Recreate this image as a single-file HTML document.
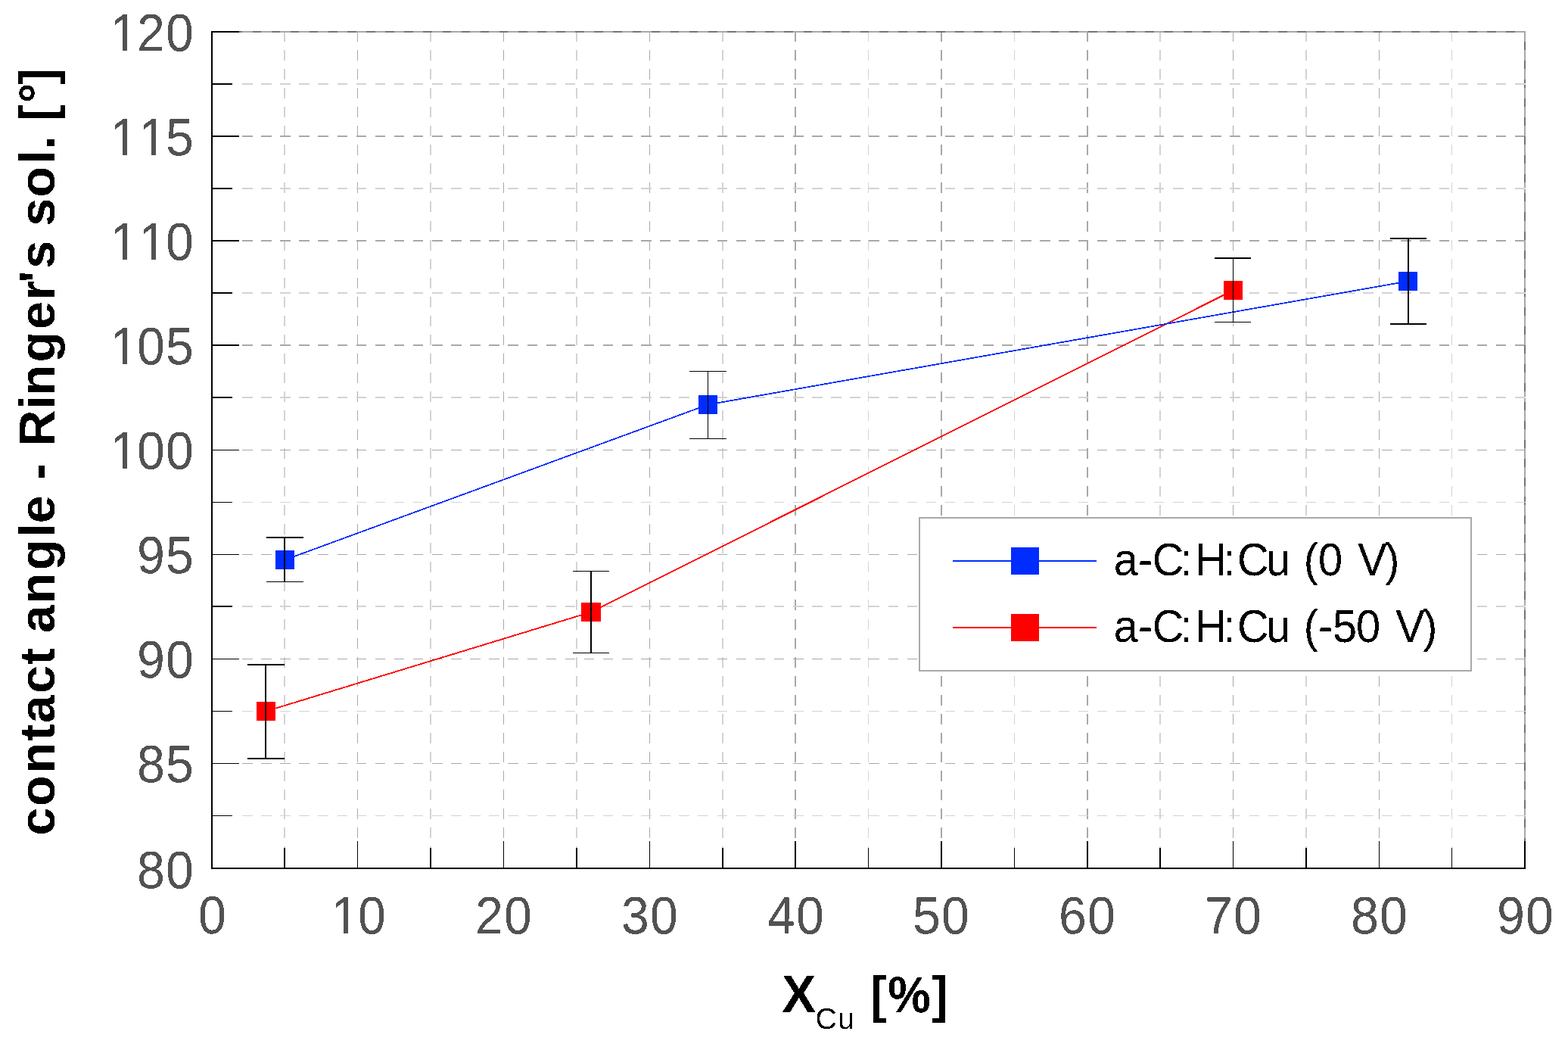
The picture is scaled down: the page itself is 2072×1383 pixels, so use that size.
<!DOCTYPE html>
<html lang="en">
<head>
<meta charset="utf-8">
<title>contact angle - Ringer's sol. vs X Cu</title>
<style>
html,body{margin:0;padding:0;background:#fff;}
body{width:2072px;height:1383px;overflow:hidden;}
svg{display:block;}
</style>
</head>
<body>
<svg width="2072" height="1383" viewBox="0 0 2072 1383" style="display:block">
<rect width="2072" height="1383" fill="#ffffff"/>
<defs><filter id="crisp" x="0" y="0" width="100%" height="100%" filterUnits="userSpaceOnUse" color-interpolation-filters="sRGB"><feComponentTransfer><feFuncA type="discrete" tableValues="0 1"/></feComponentTransfer></filter></defs>
<g shape-rendering="crispEdges">
<path d="M375 41h2v14h-2zM375 66h2v14h-2zM375 91h2v14h-2zM375 116h2v14h-2zM375 141h2v14h-2zM375 166h2v14h-2zM375 191h2v14h-2zM375 216h2v14h-2zM375 241h2v14h-2zM375 266h2v14h-2zM375 292h2v14h-2zM375 317h2v14h-2zM375 342h2v14h-2zM375 367h2v14h-2zM375 392h2v14h-2zM375 417h2v14h-2zM375 442h2v14h-2zM375 467h2v14h-2zM375 492h2v14h-2zM375 517h2v14h-2zM375 542h2v14h-2zM375 567h2v14h-2zM375 592h2v14h-2zM375 617h2v14h-2zM375 642h2v14h-2zM375 667h2v14h-2zM375 692h2v14h-2zM375 717h2v14h-2zM375 742h2v14h-2zM375 767h2v14h-2zM375 792h2v14h-2zM375 818h2v14h-2zM375 843h2v14h-2zM375 868h2v14h-2zM375 893h2v14h-2zM375 918h2v14h-2zM375 943h2v14h-2zM375 968h2v14h-2zM375 993h2v14h-2zM375 1018h2v14h-2zM375 1043h2v14h-2zM375 1068h2v14h-2zM375 1093h2v14h-2zM375 1118h2v14h-2zM375 1143h2v4h-2z" fill="#d3d3d3"/>
<path d="M472 41h1v14h-1zM472 66h1v14h-1zM472 91h1v14h-1zM472 116h1v14h-1zM472 141h1v14h-1zM472 166h1v14h-1zM472 191h1v14h-1zM472 216h1v14h-1zM472 241h1v14h-1zM472 266h1v14h-1zM472 292h1v14h-1zM472 317h1v14h-1zM472 342h1v14h-1zM472 367h1v14h-1zM472 392h1v14h-1zM472 417h1v14h-1zM472 442h1v14h-1zM472 467h1v14h-1zM472 492h1v14h-1zM472 517h1v14h-1zM472 542h1v14h-1zM472 567h1v14h-1zM472 592h1v14h-1zM472 617h1v14h-1zM472 642h1v14h-1zM472 667h1v14h-1zM472 692h1v14h-1zM472 717h1v14h-1zM472 742h1v14h-1zM472 767h1v14h-1zM472 792h1v14h-1zM472 818h1v14h-1zM472 843h1v14h-1zM472 868h1v14h-1zM472 893h1v14h-1zM472 918h1v14h-1zM472 943h1v14h-1zM472 968h1v14h-1zM472 993h1v14h-1zM472 1018h1v14h-1zM472 1043h1v14h-1zM472 1068h1v14h-1zM472 1093h1v14h-1zM472 1118h1v14h-1zM472 1143h1v4h-1z" fill="#a8a8a8"/>
<path d="M568 41h2v14h-2zM568 66h2v14h-2zM568 91h2v14h-2zM568 116h2v14h-2zM568 141h2v14h-2zM568 166h2v14h-2zM568 191h2v14h-2zM568 216h2v14h-2zM568 241h2v14h-2zM568 266h2v14h-2zM568 292h2v14h-2zM568 317h2v14h-2zM568 342h2v14h-2zM568 367h2v14h-2zM568 392h2v14h-2zM568 417h2v14h-2zM568 442h2v14h-2zM568 467h2v14h-2zM568 492h2v14h-2zM568 517h2v14h-2zM568 542h2v14h-2zM568 567h2v14h-2zM568 592h2v14h-2zM568 617h2v14h-2zM568 642h2v14h-2zM568 667h2v14h-2zM568 692h2v14h-2zM568 717h2v14h-2zM568 742h2v14h-2zM568 767h2v14h-2zM568 792h2v14h-2zM568 818h2v14h-2zM568 843h2v14h-2zM568 868h2v14h-2zM568 893h2v14h-2zM568 918h2v14h-2zM568 943h2v14h-2zM568 968h2v14h-2zM568 993h2v14h-2zM568 1018h2v14h-2zM568 1043h2v14h-2zM568 1068h2v14h-2zM568 1093h2v14h-2zM568 1118h2v14h-2zM568 1143h2v4h-2z" fill="#d3d3d3"/>
<path d="M665 41h1v14h-1zM665 66h1v14h-1zM665 91h1v14h-1zM665 116h1v14h-1zM665 141h1v14h-1zM665 166h1v14h-1zM665 191h1v14h-1zM665 216h1v14h-1zM665 241h1v14h-1zM665 266h1v14h-1zM665 292h1v14h-1zM665 317h1v14h-1zM665 342h1v14h-1zM665 367h1v14h-1zM665 392h1v14h-1zM665 417h1v14h-1zM665 442h1v14h-1zM665 467h1v14h-1zM665 492h1v14h-1zM665 517h1v14h-1zM665 542h1v14h-1zM665 567h1v14h-1zM665 592h1v14h-1zM665 617h1v14h-1zM665 642h1v14h-1zM665 667h1v14h-1zM665 692h1v14h-1zM665 717h1v14h-1zM665 742h1v14h-1zM665 767h1v14h-1zM665 792h1v14h-1zM665 818h1v14h-1zM665 843h1v14h-1zM665 868h1v14h-1zM665 893h1v14h-1zM665 918h1v14h-1zM665 943h1v14h-1zM665 968h1v14h-1zM665 993h1v14h-1zM665 1018h1v14h-1zM665 1043h1v14h-1zM665 1068h1v14h-1zM665 1093h1v14h-1zM665 1118h1v14h-1zM665 1143h1v4h-1z" fill="#a8a8a8"/>
<path d="M761 41h2v14h-2zM761 66h2v14h-2zM761 91h2v14h-2zM761 116h2v14h-2zM761 141h2v14h-2zM761 166h2v14h-2zM761 191h2v14h-2zM761 216h2v14h-2zM761 241h2v14h-2zM761 266h2v14h-2zM761 292h2v14h-2zM761 317h2v14h-2zM761 342h2v14h-2zM761 367h2v14h-2zM761 392h2v14h-2zM761 417h2v14h-2zM761 442h2v14h-2zM761 467h2v14h-2zM761 492h2v14h-2zM761 517h2v14h-2zM761 542h2v14h-2zM761 567h2v14h-2zM761 592h2v14h-2zM761 617h2v14h-2zM761 642h2v14h-2zM761 667h2v14h-2zM761 692h2v14h-2zM761 717h2v14h-2zM761 742h2v14h-2zM761 767h2v14h-2zM761 792h2v14h-2zM761 818h2v14h-2zM761 843h2v14h-2zM761 868h2v14h-2zM761 893h2v14h-2zM761 918h2v14h-2zM761 943h2v14h-2zM761 968h2v14h-2zM761 993h2v14h-2zM761 1018h2v14h-2zM761 1043h2v14h-2zM761 1068h2v14h-2zM761 1093h2v14h-2zM761 1118h2v14h-2zM761 1143h2v4h-2z" fill="#d3d3d3"/>
<path d="M858 41h1v14h-1zM858 66h1v14h-1zM858 91h1v14h-1zM858 116h1v14h-1zM858 141h1v14h-1zM858 166h1v14h-1zM858 191h1v14h-1zM858 216h1v14h-1zM858 241h1v14h-1zM858 266h1v14h-1zM858 292h1v14h-1zM858 317h1v14h-1zM858 342h1v14h-1zM858 367h1v14h-1zM858 392h1v14h-1zM858 417h1v14h-1zM858 442h1v14h-1zM858 467h1v14h-1zM858 492h1v14h-1zM858 517h1v14h-1zM858 542h1v14h-1zM858 567h1v14h-1zM858 592h1v14h-1zM858 617h1v14h-1zM858 642h1v14h-1zM858 667h1v14h-1zM858 692h1v14h-1zM858 717h1v14h-1zM858 742h1v14h-1zM858 767h1v14h-1zM858 792h1v14h-1zM858 818h1v14h-1zM858 843h1v14h-1zM858 868h1v14h-1zM858 893h1v14h-1zM858 918h1v14h-1zM858 943h1v14h-1zM858 968h1v14h-1zM858 993h1v14h-1zM858 1018h1v14h-1zM858 1043h1v14h-1zM858 1068h1v14h-1zM858 1093h1v14h-1zM858 1118h1v14h-1zM858 1143h1v4h-1z" fill="#a8a8a8"/>
<path d="M954 41h2v14h-2zM954 66h2v14h-2zM954 91h2v14h-2zM954 116h2v14h-2zM954 141h2v14h-2zM954 166h2v14h-2zM954 191h2v14h-2zM954 216h2v14h-2zM954 241h2v14h-2zM954 266h2v14h-2zM954 292h2v14h-2zM954 317h2v14h-2zM954 342h2v14h-2zM954 367h2v14h-2zM954 392h2v14h-2zM954 417h2v14h-2zM954 442h2v14h-2zM954 467h2v14h-2zM954 492h2v14h-2zM954 517h2v14h-2zM954 542h2v14h-2zM954 567h2v14h-2zM954 592h2v14h-2zM954 617h2v14h-2zM954 642h2v14h-2zM954 667h2v14h-2zM954 692h2v14h-2zM954 717h2v14h-2zM954 742h2v14h-2zM954 767h2v14h-2zM954 792h2v14h-2zM954 818h2v14h-2zM954 843h2v14h-2zM954 868h2v14h-2zM954 893h2v14h-2zM954 918h2v14h-2zM954 943h2v14h-2zM954 968h2v14h-2zM954 993h2v14h-2zM954 1018h2v14h-2zM954 1043h2v14h-2zM954 1068h2v14h-2zM954 1093h2v14h-2zM954 1118h2v14h-2zM954 1143h2v4h-2z" fill="#d3d3d3"/>
<path d="M1050 41h2v14h-2zM1050 66h2v14h-2zM1050 91h2v14h-2zM1050 116h2v14h-2zM1050 141h2v14h-2zM1050 166h2v14h-2zM1050 191h2v14h-2zM1050 216h2v14h-2zM1050 241h2v14h-2zM1050 266h2v14h-2zM1050 292h2v14h-2zM1050 317h2v14h-2zM1050 342h2v14h-2zM1050 367h2v14h-2zM1050 392h2v14h-2zM1050 417h2v14h-2zM1050 442h2v14h-2zM1050 467h2v14h-2zM1050 492h2v14h-2zM1050 517h2v14h-2zM1050 542h2v14h-2zM1050 567h2v14h-2zM1050 592h2v14h-2zM1050 617h2v14h-2zM1050 642h2v14h-2zM1050 667h2v14h-2zM1050 692h2v14h-2zM1050 717h2v14h-2zM1050 742h2v14h-2zM1050 767h2v14h-2zM1050 792h2v14h-2zM1050 818h2v14h-2zM1050 843h2v14h-2zM1050 868h2v14h-2zM1050 893h2v14h-2zM1050 918h2v14h-2zM1050 943h2v14h-2zM1050 968h2v14h-2zM1050 993h2v14h-2zM1050 1018h2v14h-2zM1050 1043h2v14h-2zM1050 1068h2v14h-2zM1050 1093h2v14h-2zM1050 1118h2v14h-2zM1050 1143h2v4h-2z" fill="#a8a8a8"/>
<path d="M1147 41h1v14h-1zM1147 66h1v14h-1zM1147 91h1v14h-1zM1147 116h1v14h-1zM1147 141h1v14h-1zM1147 166h1v14h-1zM1147 191h1v14h-1zM1147 216h1v14h-1zM1147 241h1v14h-1zM1147 266h1v14h-1zM1147 292h1v14h-1zM1147 317h1v14h-1zM1147 342h1v14h-1zM1147 367h1v14h-1zM1147 392h1v14h-1zM1147 417h1v14h-1zM1147 442h1v14h-1zM1147 467h1v14h-1zM1147 492h1v14h-1zM1147 517h1v14h-1zM1147 542h1v14h-1zM1147 567h1v14h-1zM1147 592h1v14h-1zM1147 617h1v14h-1zM1147 642h1v14h-1zM1147 667h1v14h-1zM1147 692h1v14h-1zM1147 717h1v14h-1zM1147 742h1v14h-1zM1147 767h1v14h-1zM1147 792h1v14h-1zM1147 818h1v14h-1zM1147 843h1v14h-1zM1147 868h1v14h-1zM1147 893h1v14h-1zM1147 918h1v14h-1zM1147 943h1v14h-1zM1147 968h1v14h-1zM1147 993h1v14h-1zM1147 1018h1v14h-1zM1147 1043h1v14h-1zM1147 1068h1v14h-1zM1147 1093h1v14h-1zM1147 1118h1v14h-1zM1147 1143h1v4h-1z" fill="#d3d3d3"/>
<path d="M1243 41h2v14h-2zM1243 66h2v14h-2zM1243 91h2v14h-2zM1243 116h2v14h-2zM1243 141h2v14h-2zM1243 166h2v14h-2zM1243 191h2v14h-2zM1243 216h2v14h-2zM1243 241h2v14h-2zM1243 266h2v14h-2zM1243 292h2v14h-2zM1243 317h2v14h-2zM1243 342h2v14h-2zM1243 367h2v14h-2zM1243 392h2v14h-2zM1243 417h2v14h-2zM1243 442h2v14h-2zM1243 467h2v14h-2zM1243 492h2v14h-2zM1243 517h2v14h-2zM1243 542h2v14h-2zM1243 567h2v14h-2zM1243 592h2v14h-2zM1243 617h2v14h-2zM1243 642h2v14h-2zM1243 667h2v14h-2zM1243 692h2v14h-2zM1243 717h2v14h-2zM1243 742h2v14h-2zM1243 767h2v14h-2zM1243 792h2v14h-2zM1243 818h2v14h-2zM1243 843h2v14h-2zM1243 868h2v14h-2zM1243 893h2v14h-2zM1243 918h2v14h-2zM1243 943h2v14h-2zM1243 968h2v14h-2zM1243 993h2v14h-2zM1243 1018h2v14h-2zM1243 1043h2v14h-2zM1243 1068h2v14h-2zM1243 1093h2v14h-2zM1243 1118h2v14h-2zM1243 1143h2v4h-2z" fill="#a8a8a8"/>
<path d="M1340 41h1v14h-1zM1340 66h1v14h-1zM1340 91h1v14h-1zM1340 116h1v14h-1zM1340 141h1v14h-1zM1340 166h1v14h-1zM1340 191h1v14h-1zM1340 216h1v14h-1zM1340 241h1v14h-1zM1340 266h1v14h-1zM1340 292h1v14h-1zM1340 317h1v14h-1zM1340 342h1v14h-1zM1340 367h1v14h-1zM1340 392h1v14h-1zM1340 417h1v14h-1zM1340 442h1v14h-1zM1340 467h1v14h-1zM1340 492h1v14h-1zM1340 517h1v14h-1zM1340 542h1v14h-1zM1340 567h1v14h-1zM1340 592h1v14h-1zM1340 617h1v14h-1zM1340 642h1v14h-1zM1340 667h1v14h-1zM1340 692h1v14h-1zM1340 717h1v14h-1zM1340 742h1v14h-1zM1340 767h1v14h-1zM1340 792h1v14h-1zM1340 818h1v14h-1zM1340 843h1v14h-1zM1340 868h1v14h-1zM1340 893h1v14h-1zM1340 918h1v14h-1zM1340 943h1v14h-1zM1340 968h1v14h-1zM1340 993h1v14h-1zM1340 1018h1v14h-1zM1340 1043h1v14h-1zM1340 1068h1v14h-1zM1340 1093h1v14h-1zM1340 1118h1v14h-1zM1340 1143h1v4h-1z" fill="#d3d3d3"/>
<path d="M1436 41h2v14h-2zM1436 66h2v14h-2zM1436 91h2v14h-2zM1436 116h2v14h-2zM1436 141h2v14h-2zM1436 166h2v14h-2zM1436 191h2v14h-2zM1436 216h2v14h-2zM1436 241h2v14h-2zM1436 266h2v14h-2zM1436 292h2v14h-2zM1436 317h2v14h-2zM1436 342h2v14h-2zM1436 367h2v14h-2zM1436 392h2v14h-2zM1436 417h2v14h-2zM1436 442h2v14h-2zM1436 467h2v14h-2zM1436 492h2v14h-2zM1436 517h2v14h-2zM1436 542h2v14h-2zM1436 567h2v14h-2zM1436 592h2v14h-2zM1436 617h2v14h-2zM1436 642h2v14h-2zM1436 667h2v14h-2zM1436 692h2v14h-2zM1436 717h2v14h-2zM1436 742h2v14h-2zM1436 767h2v14h-2zM1436 792h2v14h-2zM1436 818h2v14h-2zM1436 843h2v14h-2zM1436 868h2v14h-2zM1436 893h2v14h-2zM1436 918h2v14h-2zM1436 943h2v14h-2zM1436 968h2v14h-2zM1436 993h2v14h-2zM1436 1018h2v14h-2zM1436 1043h2v14h-2zM1436 1068h2v14h-2zM1436 1093h2v14h-2zM1436 1118h2v14h-2zM1436 1143h2v4h-2z" fill="#a8a8a8"/>
<path d="M1532 41h2v14h-2zM1532 66h2v14h-2zM1532 91h2v14h-2zM1532 116h2v14h-2zM1532 141h2v14h-2zM1532 166h2v14h-2zM1532 191h2v14h-2zM1532 216h2v14h-2zM1532 241h2v14h-2zM1532 266h2v14h-2zM1532 292h2v14h-2zM1532 317h2v14h-2zM1532 342h2v14h-2zM1532 367h2v14h-2zM1532 392h2v14h-2zM1532 417h2v14h-2zM1532 442h2v14h-2zM1532 467h2v14h-2zM1532 492h2v14h-2zM1532 517h2v14h-2zM1532 542h2v14h-2zM1532 567h2v14h-2zM1532 592h2v14h-2zM1532 617h2v14h-2zM1532 642h2v14h-2zM1532 667h2v14h-2zM1532 692h2v14h-2zM1532 717h2v14h-2zM1532 742h2v14h-2zM1532 767h2v14h-2zM1532 792h2v14h-2zM1532 818h2v14h-2zM1532 843h2v14h-2zM1532 868h2v14h-2zM1532 893h2v14h-2zM1532 918h2v14h-2zM1532 943h2v14h-2zM1532 968h2v14h-2zM1532 993h2v14h-2zM1532 1018h2v14h-2zM1532 1043h2v14h-2zM1532 1068h2v14h-2zM1532 1093h2v14h-2zM1532 1118h2v14h-2zM1532 1143h2v4h-2z" fill="#d3d3d3"/>
<path d="M1629 41h1v14h-1zM1629 66h1v14h-1zM1629 91h1v14h-1zM1629 116h1v14h-1zM1629 141h1v14h-1zM1629 166h1v14h-1zM1629 191h1v14h-1zM1629 216h1v14h-1zM1629 241h1v14h-1zM1629 266h1v14h-1zM1629 292h1v14h-1zM1629 317h1v14h-1zM1629 342h1v14h-1zM1629 367h1v14h-1zM1629 392h1v14h-1zM1629 417h1v14h-1zM1629 442h1v14h-1zM1629 467h1v14h-1zM1629 492h1v14h-1zM1629 517h1v14h-1zM1629 542h1v14h-1zM1629 567h1v14h-1zM1629 592h1v14h-1zM1629 617h1v14h-1zM1629 642h1v14h-1zM1629 667h1v14h-1zM1629 692h1v14h-1zM1629 717h1v14h-1zM1629 742h1v14h-1zM1629 767h1v14h-1zM1629 792h1v14h-1zM1629 818h1v14h-1zM1629 843h1v14h-1zM1629 868h1v14h-1zM1629 893h1v14h-1zM1629 918h1v14h-1zM1629 943h1v14h-1zM1629 968h1v14h-1zM1629 993h1v14h-1zM1629 1018h1v14h-1zM1629 1043h1v14h-1zM1629 1068h1v14h-1zM1629 1093h1v14h-1zM1629 1118h1v14h-1zM1629 1143h1v4h-1z" fill="#a8a8a8"/>
<path d="M1725 41h2v14h-2zM1725 66h2v14h-2zM1725 91h2v14h-2zM1725 116h2v14h-2zM1725 141h2v14h-2zM1725 166h2v14h-2zM1725 191h2v14h-2zM1725 216h2v14h-2zM1725 241h2v14h-2zM1725 266h2v14h-2zM1725 292h2v14h-2zM1725 317h2v14h-2zM1725 342h2v14h-2zM1725 367h2v14h-2zM1725 392h2v14h-2zM1725 417h2v14h-2zM1725 442h2v14h-2zM1725 467h2v14h-2zM1725 492h2v14h-2zM1725 517h2v14h-2zM1725 542h2v14h-2zM1725 567h2v14h-2zM1725 592h2v14h-2zM1725 617h2v14h-2zM1725 642h2v14h-2zM1725 667h2v14h-2zM1725 692h2v14h-2zM1725 717h2v14h-2zM1725 742h2v14h-2zM1725 767h2v14h-2zM1725 792h2v14h-2zM1725 818h2v14h-2zM1725 843h2v14h-2zM1725 868h2v14h-2zM1725 893h2v14h-2zM1725 918h2v14h-2zM1725 943h2v14h-2zM1725 968h2v14h-2zM1725 993h2v14h-2zM1725 1018h2v14h-2zM1725 1043h2v14h-2zM1725 1068h2v14h-2zM1725 1093h2v14h-2zM1725 1118h2v14h-2zM1725 1143h2v4h-2z" fill="#d3d3d3"/>
<path d="M1822 41h1v14h-1zM1822 66h1v14h-1zM1822 91h1v14h-1zM1822 116h1v14h-1zM1822 141h1v14h-1zM1822 166h1v14h-1zM1822 191h1v14h-1zM1822 216h1v14h-1zM1822 241h1v14h-1zM1822 266h1v14h-1zM1822 292h1v14h-1zM1822 317h1v14h-1zM1822 342h1v14h-1zM1822 367h1v14h-1zM1822 392h1v14h-1zM1822 417h1v14h-1zM1822 442h1v14h-1zM1822 467h1v14h-1zM1822 492h1v14h-1zM1822 517h1v14h-1zM1822 542h1v14h-1zM1822 567h1v14h-1zM1822 592h1v14h-1zM1822 617h1v14h-1zM1822 642h1v14h-1zM1822 667h1v14h-1zM1822 692h1v14h-1zM1822 717h1v14h-1zM1822 742h1v14h-1zM1822 767h1v14h-1zM1822 792h1v14h-1zM1822 818h1v14h-1zM1822 843h1v14h-1zM1822 868h1v14h-1zM1822 893h1v14h-1zM1822 918h1v14h-1zM1822 943h1v14h-1zM1822 968h1v14h-1zM1822 993h1v14h-1zM1822 1018h1v14h-1zM1822 1043h1v14h-1zM1822 1068h1v14h-1zM1822 1093h1v14h-1zM1822 1118h1v14h-1zM1822 1143h1v4h-1z" fill="#a8a8a8"/>
<path d="M1918 41h1v14h-1zM1918 66h1v14h-1zM1918 91h1v14h-1zM1918 116h1v14h-1zM1918 141h1v14h-1zM1918 166h1v14h-1zM1918 191h1v14h-1zM1918 216h1v14h-1zM1918 241h1v14h-1zM1918 266h1v14h-1zM1918 292h1v14h-1zM1918 317h1v14h-1zM1918 342h1v14h-1zM1918 367h1v14h-1zM1918 392h1v14h-1zM1918 417h1v14h-1zM1918 442h1v14h-1zM1918 467h1v14h-1zM1918 492h1v14h-1zM1918 517h1v14h-1zM1918 542h1v14h-1zM1918 567h1v14h-1zM1918 592h1v14h-1zM1918 617h1v14h-1zM1918 642h1v14h-1zM1918 667h1v14h-1zM1918 692h1v14h-1zM1918 717h1v14h-1zM1918 742h1v14h-1zM1918 767h1v14h-1zM1918 792h1v14h-1zM1918 818h1v14h-1zM1918 843h1v14h-1zM1918 868h1v14h-1zM1918 893h1v14h-1zM1918 918h1v14h-1zM1918 943h1v14h-1zM1918 968h1v14h-1zM1918 993h1v14h-1zM1918 1018h1v14h-1zM1918 1043h1v14h-1zM1918 1068h1v14h-1zM1918 1093h1v14h-1zM1918 1118h1v14h-1zM1918 1143h1v4h-1z" fill="#d3d3d3"/>
<path d="M320 110h14v2h-14zM345 110h14v2h-14zM370 110h14v2h-14zM395 110h14v2h-14zM420 110h14v2h-14zM446 110h13v2h-13zM471 110h13v2h-13zM496 110h13v2h-13zM521 110h13v2h-13zM546 110h13v2h-13zM571 110h14v2h-14zM596 110h14v2h-14zM621 110h14v2h-14zM646 110h14v2h-14zM671 110h14v2h-14zM697 110h13v2h-13zM722 110h13v2h-13zM747 110h13v2h-13zM772 110h13v2h-13zM797 110h13v2h-13zM822 110h14v2h-14zM847 110h14v2h-14zM872 110h14v2h-14zM897 110h14v2h-14zM922 110h14v2h-14zM948 110h13v2h-13zM973 110h13v2h-13zM998 110h13v2h-13zM1023 110h13v2h-13zM1048 110h14v2h-14zM1073 110h14v2h-14zM1098 110h14v2h-14zM1123 110h14v2h-14zM1148 110h14v2h-14zM1174 110h13v2h-13zM1199 110h13v2h-13zM1224 110h13v2h-13zM1249 110h13v2h-13zM1274 110h13v2h-13zM1299 110h14v2h-14zM1324 110h14v2h-14zM1349 110h14v2h-14zM1374 110h14v2h-14zM1399 110h14v2h-14zM1425 110h13v2h-13zM1450 110h13v2h-13zM1475 110h13v2h-13zM1500 110h13v2h-13zM1525 110h13v2h-13zM1550 110h14v2h-14zM1575 110h14v2h-14zM1600 110h14v2h-14zM1625 110h14v2h-14zM1651 110h13v2h-13zM1676 110h13v2h-13zM1701 110h13v2h-13zM1726 110h13v2h-13zM1751 110h13v2h-13zM1776 110h14v2h-14zM1801 110h14v2h-14zM1826 110h14v2h-14zM1851 110h14v2h-14zM1876 110h14v2h-14zM1902 110h13v2h-13zM1927 110h13v2h-13zM1952 110h13v2h-13zM1977 110h13v2h-13zM2002 110h13v2h-13z" fill="#d3d3d3"/>
<path d="M320 179h14v2h-14zM345 179h14v2h-14zM370 179h14v2h-14zM395 179h14v2h-14zM420 179h14v2h-14zM446 179h13v2h-13zM471 179h13v2h-13zM496 179h13v2h-13zM521 179h13v2h-13zM546 179h13v2h-13zM571 179h14v2h-14zM596 179h14v2h-14zM621 179h14v2h-14zM646 179h14v2h-14zM671 179h14v2h-14zM697 179h13v2h-13zM722 179h13v2h-13zM747 179h13v2h-13zM772 179h13v2h-13zM797 179h13v2h-13zM822 179h14v2h-14zM847 179h14v2h-14zM872 179h14v2h-14zM897 179h14v2h-14zM922 179h14v2h-14zM948 179h13v2h-13zM973 179h13v2h-13zM998 179h13v2h-13zM1023 179h13v2h-13zM1048 179h14v2h-14zM1073 179h14v2h-14zM1098 179h14v2h-14zM1123 179h14v2h-14zM1148 179h14v2h-14zM1174 179h13v2h-13zM1199 179h13v2h-13zM1224 179h13v2h-13zM1249 179h13v2h-13zM1274 179h13v2h-13zM1299 179h14v2h-14zM1324 179h14v2h-14zM1349 179h14v2h-14zM1374 179h14v2h-14zM1399 179h14v2h-14zM1425 179h13v2h-13zM1450 179h13v2h-13zM1475 179h13v2h-13zM1500 179h13v2h-13zM1525 179h13v2h-13zM1550 179h14v2h-14zM1575 179h14v2h-14zM1600 179h14v2h-14zM1625 179h14v2h-14zM1651 179h13v2h-13zM1676 179h13v2h-13zM1701 179h13v2h-13zM1726 179h13v2h-13zM1751 179h13v2h-13zM1776 179h14v2h-14zM1801 179h14v2h-14zM1826 179h14v2h-14zM1851 179h14v2h-14zM1876 179h14v2h-14zM1902 179h13v2h-13zM1927 179h13v2h-13zM1952 179h13v2h-13zM1977 179h13v2h-13zM2002 179h13v2h-13z" fill="#a8a8a8"/>
<path d="M320 248h14v2h-14zM345 248h14v2h-14zM370 248h14v2h-14zM395 248h14v2h-14zM420 248h14v2h-14zM446 248h13v2h-13zM471 248h13v2h-13zM496 248h13v2h-13zM521 248h13v2h-13zM546 248h13v2h-13zM571 248h14v2h-14zM596 248h14v2h-14zM621 248h14v2h-14zM646 248h14v2h-14zM671 248h14v2h-14zM697 248h13v2h-13zM722 248h13v2h-13zM747 248h13v2h-13zM772 248h13v2h-13zM797 248h13v2h-13zM822 248h14v2h-14zM847 248h14v2h-14zM872 248h14v2h-14zM897 248h14v2h-14zM922 248h14v2h-14zM948 248h13v2h-13zM973 248h13v2h-13zM998 248h13v2h-13zM1023 248h13v2h-13zM1048 248h14v2h-14zM1073 248h14v2h-14zM1098 248h14v2h-14zM1123 248h14v2h-14zM1148 248h14v2h-14zM1174 248h13v2h-13zM1199 248h13v2h-13zM1224 248h13v2h-13zM1249 248h13v2h-13zM1274 248h13v2h-13zM1299 248h14v2h-14zM1324 248h14v2h-14zM1349 248h14v2h-14zM1374 248h14v2h-14zM1399 248h14v2h-14zM1425 248h13v2h-13zM1450 248h13v2h-13zM1475 248h13v2h-13zM1500 248h13v2h-13zM1525 248h13v2h-13zM1550 248h14v2h-14zM1575 248h14v2h-14zM1600 248h14v2h-14zM1625 248h14v2h-14zM1651 248h13v2h-13zM1676 248h13v2h-13zM1701 248h13v2h-13zM1726 248h13v2h-13zM1751 248h13v2h-13zM1776 248h14v2h-14zM1801 248h14v2h-14zM1826 248h14v2h-14zM1851 248h14v2h-14zM1876 248h14v2h-14zM1902 248h13v2h-13zM1927 248h13v2h-13zM1952 248h13v2h-13zM1977 248h13v2h-13zM2002 248h13v2h-13z" fill="#d3d3d3"/>
<path d="M320 317h14v2h-14zM345 317h14v2h-14zM370 317h14v2h-14zM395 317h14v2h-14zM420 317h14v2h-14zM446 317h13v2h-13zM471 317h13v2h-13zM496 317h13v2h-13zM521 317h13v2h-13zM546 317h13v2h-13zM571 317h14v2h-14zM596 317h14v2h-14zM621 317h14v2h-14zM646 317h14v2h-14zM671 317h14v2h-14zM697 317h13v2h-13zM722 317h13v2h-13zM747 317h13v2h-13zM772 317h13v2h-13zM797 317h13v2h-13zM822 317h14v2h-14zM847 317h14v2h-14zM872 317h14v2h-14zM897 317h14v2h-14zM922 317h14v2h-14zM948 317h13v2h-13zM973 317h13v2h-13zM998 317h13v2h-13zM1023 317h13v2h-13zM1048 317h14v2h-14zM1073 317h14v2h-14zM1098 317h14v2h-14zM1123 317h14v2h-14zM1148 317h14v2h-14zM1174 317h13v2h-13zM1199 317h13v2h-13zM1224 317h13v2h-13zM1249 317h13v2h-13zM1274 317h13v2h-13zM1299 317h14v2h-14zM1324 317h14v2h-14zM1349 317h14v2h-14zM1374 317h14v2h-14zM1399 317h14v2h-14zM1425 317h13v2h-13zM1450 317h13v2h-13zM1475 317h13v2h-13zM1500 317h13v2h-13zM1525 317h13v2h-13zM1550 317h14v2h-14zM1575 317h14v2h-14zM1600 317h14v2h-14zM1625 317h14v2h-14zM1651 317h13v2h-13zM1676 317h13v2h-13zM1701 317h13v2h-13zM1726 317h13v2h-13zM1751 317h13v2h-13zM1776 317h14v2h-14zM1801 317h14v2h-14zM1826 317h14v2h-14zM1851 317h14v2h-14zM1876 317h14v2h-14zM1902 317h13v2h-13zM1927 317h13v2h-13zM1952 317h13v2h-13zM1977 317h13v2h-13zM2002 317h13v2h-13z" fill="#a8a8a8"/>
<path d="M320 386h14v2h-14zM345 386h14v2h-14zM370 386h14v2h-14zM395 386h14v2h-14zM420 386h14v2h-14zM446 386h13v2h-13zM471 386h13v2h-13zM496 386h13v2h-13zM521 386h13v2h-13zM546 386h13v2h-13zM571 386h14v2h-14zM596 386h14v2h-14zM621 386h14v2h-14zM646 386h14v2h-14zM671 386h14v2h-14zM697 386h13v2h-13zM722 386h13v2h-13zM747 386h13v2h-13zM772 386h13v2h-13zM797 386h13v2h-13zM822 386h14v2h-14zM847 386h14v2h-14zM872 386h14v2h-14zM897 386h14v2h-14zM922 386h14v2h-14zM948 386h13v2h-13zM973 386h13v2h-13zM998 386h13v2h-13zM1023 386h13v2h-13zM1048 386h14v2h-14zM1073 386h14v2h-14zM1098 386h14v2h-14zM1123 386h14v2h-14zM1148 386h14v2h-14zM1174 386h13v2h-13zM1199 386h13v2h-13zM1224 386h13v2h-13zM1249 386h13v2h-13zM1274 386h13v2h-13zM1299 386h14v2h-14zM1324 386h14v2h-14zM1349 386h14v2h-14zM1374 386h14v2h-14zM1399 386h14v2h-14zM1425 386h13v2h-13zM1450 386h13v2h-13zM1475 386h13v2h-13zM1500 386h13v2h-13zM1525 386h13v2h-13zM1550 386h14v2h-14zM1575 386h14v2h-14zM1600 386h14v2h-14zM1625 386h14v2h-14zM1651 386h13v2h-13zM1676 386h13v2h-13zM1701 386h13v2h-13zM1726 386h13v2h-13zM1751 386h13v2h-13zM1776 386h14v2h-14zM1801 386h14v2h-14zM1826 386h14v2h-14zM1851 386h14v2h-14zM1876 386h14v2h-14zM1902 386h13v2h-13zM1927 386h13v2h-13zM1952 386h13v2h-13zM1977 386h13v2h-13zM2002 386h13v2h-13z" fill="#d3d3d3"/>
<path d="M320 455h14v2h-14zM345 455h14v2h-14zM370 455h14v2h-14zM395 455h14v2h-14zM420 455h14v2h-14zM446 455h13v2h-13zM471 455h13v2h-13zM496 455h13v2h-13zM521 455h13v2h-13zM546 455h13v2h-13zM571 455h14v2h-14zM596 455h14v2h-14zM621 455h14v2h-14zM646 455h14v2h-14zM671 455h14v2h-14zM697 455h13v2h-13zM722 455h13v2h-13zM747 455h13v2h-13zM772 455h13v2h-13zM797 455h13v2h-13zM822 455h14v2h-14zM847 455h14v2h-14zM872 455h14v2h-14zM897 455h14v2h-14zM922 455h14v2h-14zM948 455h13v2h-13zM973 455h13v2h-13zM998 455h13v2h-13zM1023 455h13v2h-13zM1048 455h14v2h-14zM1073 455h14v2h-14zM1098 455h14v2h-14zM1123 455h14v2h-14zM1148 455h14v2h-14zM1174 455h13v2h-13zM1199 455h13v2h-13zM1224 455h13v2h-13zM1249 455h13v2h-13zM1274 455h13v2h-13zM1299 455h14v2h-14zM1324 455h14v2h-14zM1349 455h14v2h-14zM1374 455h14v2h-14zM1399 455h14v2h-14zM1425 455h13v2h-13zM1450 455h13v2h-13zM1475 455h13v2h-13zM1500 455h13v2h-13zM1525 455h13v2h-13zM1550 455h14v2h-14zM1575 455h14v2h-14zM1600 455h14v2h-14zM1625 455h14v2h-14zM1651 455h13v2h-13zM1676 455h13v2h-13zM1701 455h13v2h-13zM1726 455h13v2h-13zM1751 455h13v2h-13zM1776 455h14v2h-14zM1801 455h14v2h-14zM1826 455h14v2h-14zM1851 455h14v2h-14zM1876 455h14v2h-14zM1902 455h13v2h-13zM1927 455h13v2h-13zM1952 455h13v2h-13zM1977 455h13v2h-13zM2002 455h13v2h-13z" fill="#a8a8a8"/>
<path d="M320 524h14v2h-14zM345 524h14v2h-14zM370 524h14v2h-14zM395 524h14v2h-14zM420 524h14v2h-14zM446 524h13v2h-13zM471 524h13v2h-13zM496 524h13v2h-13zM521 524h13v2h-13zM546 524h13v2h-13zM571 524h14v2h-14zM596 524h14v2h-14zM621 524h14v2h-14zM646 524h14v2h-14zM671 524h14v2h-14zM697 524h13v2h-13zM722 524h13v2h-13zM747 524h13v2h-13zM772 524h13v2h-13zM797 524h13v2h-13zM822 524h14v2h-14zM847 524h14v2h-14zM872 524h14v2h-14zM897 524h14v2h-14zM922 524h14v2h-14zM948 524h13v2h-13zM973 524h13v2h-13zM998 524h13v2h-13zM1023 524h13v2h-13zM1048 524h14v2h-14zM1073 524h14v2h-14zM1098 524h14v2h-14zM1123 524h14v2h-14zM1148 524h14v2h-14zM1174 524h13v2h-13zM1199 524h13v2h-13zM1224 524h13v2h-13zM1249 524h13v2h-13zM1274 524h13v2h-13zM1299 524h14v2h-14zM1324 524h14v2h-14zM1349 524h14v2h-14zM1374 524h14v2h-14zM1399 524h14v2h-14zM1425 524h13v2h-13zM1450 524h13v2h-13zM1475 524h13v2h-13zM1500 524h13v2h-13zM1525 524h13v2h-13zM1550 524h14v2h-14zM1575 524h14v2h-14zM1600 524h14v2h-14zM1625 524h14v2h-14zM1651 524h13v2h-13zM1676 524h13v2h-13zM1701 524h13v2h-13zM1726 524h13v2h-13zM1751 524h13v2h-13zM1776 524h14v2h-14zM1801 524h14v2h-14zM1826 524h14v2h-14zM1851 524h14v2h-14zM1876 524h14v2h-14zM1902 524h13v2h-13zM1927 524h13v2h-13zM1952 524h13v2h-13zM1977 524h13v2h-13zM2002 524h13v2h-13z" fill="#d3d3d3"/>
<path d="M320 594h14v1h-14zM345 594h14v1h-14zM370 594h14v1h-14zM395 594h14v1h-14zM420 594h14v1h-14zM446 594h13v1h-13zM471 594h13v1h-13zM496 594h13v1h-13zM521 594h13v1h-13zM546 594h13v1h-13zM571 594h14v1h-14zM596 594h14v1h-14zM621 594h14v1h-14zM646 594h14v1h-14zM671 594h14v1h-14zM697 594h13v1h-13zM722 594h13v1h-13zM747 594h13v1h-13zM772 594h13v1h-13zM797 594h13v1h-13zM822 594h14v1h-14zM847 594h14v1h-14zM872 594h14v1h-14zM897 594h14v1h-14zM922 594h14v1h-14zM948 594h13v1h-13zM973 594h13v1h-13zM998 594h13v1h-13zM1023 594h13v1h-13zM1048 594h14v1h-14zM1073 594h14v1h-14zM1098 594h14v1h-14zM1123 594h14v1h-14zM1148 594h14v1h-14zM1174 594h13v1h-13zM1199 594h13v1h-13zM1224 594h13v1h-13zM1249 594h13v1h-13zM1274 594h13v1h-13zM1299 594h14v1h-14zM1324 594h14v1h-14zM1349 594h14v1h-14zM1374 594h14v1h-14zM1399 594h14v1h-14zM1425 594h13v1h-13zM1450 594h13v1h-13zM1475 594h13v1h-13zM1500 594h13v1h-13zM1525 594h13v1h-13zM1550 594h14v1h-14zM1575 594h14v1h-14zM1600 594h14v1h-14zM1625 594h14v1h-14zM1651 594h13v1h-13zM1676 594h13v1h-13zM1701 594h13v1h-13zM1726 594h13v1h-13zM1751 594h13v1h-13zM1776 594h14v1h-14zM1801 594h14v1h-14zM1826 594h14v1h-14zM1851 594h14v1h-14zM1876 594h14v1h-14zM1902 594h13v1h-13zM1927 594h13v1h-13zM1952 594h13v1h-13zM1977 594h13v1h-13zM2002 594h13v1h-13z" fill="#a8a8a8"/>
<path d="M320 663h14v1h-14zM345 663h14v1h-14zM370 663h14v1h-14zM395 663h14v1h-14zM420 663h14v1h-14zM446 663h13v1h-13zM471 663h13v1h-13zM496 663h13v1h-13zM521 663h13v1h-13zM546 663h13v1h-13zM571 663h14v1h-14zM596 663h14v1h-14zM621 663h14v1h-14zM646 663h14v1h-14zM671 663h14v1h-14zM697 663h13v1h-13zM722 663h13v1h-13zM747 663h13v1h-13zM772 663h13v1h-13zM797 663h13v1h-13zM822 663h14v1h-14zM847 663h14v1h-14zM872 663h14v1h-14zM897 663h14v1h-14zM922 663h14v1h-14zM948 663h13v1h-13zM973 663h13v1h-13zM998 663h13v1h-13zM1023 663h13v1h-13zM1048 663h14v1h-14zM1073 663h14v1h-14zM1098 663h14v1h-14zM1123 663h14v1h-14zM1148 663h14v1h-14zM1174 663h13v1h-13zM1199 663h13v1h-13zM1224 663h13v1h-13zM1249 663h13v1h-13zM1274 663h13v1h-13zM1299 663h14v1h-14zM1324 663h14v1h-14zM1349 663h14v1h-14zM1374 663h14v1h-14zM1399 663h14v1h-14zM1425 663h13v1h-13zM1450 663h13v1h-13zM1475 663h13v1h-13zM1500 663h13v1h-13zM1525 663h13v1h-13zM1550 663h14v1h-14zM1575 663h14v1h-14zM1600 663h14v1h-14zM1625 663h14v1h-14zM1651 663h13v1h-13zM1676 663h13v1h-13zM1701 663h13v1h-13zM1726 663h13v1h-13zM1751 663h13v1h-13zM1776 663h14v1h-14zM1801 663h14v1h-14zM1826 663h14v1h-14zM1851 663h14v1h-14zM1876 663h14v1h-14zM1902 663h13v1h-13zM1927 663h13v1h-13zM1952 663h13v1h-13zM1977 663h13v1h-13zM2002 663h13v1h-13z" fill="#d3d3d3"/>
<path d="M320 732h14v1h-14zM345 732h14v1h-14zM370 732h14v1h-14zM395 732h14v1h-14zM420 732h14v1h-14zM446 732h13v1h-13zM471 732h13v1h-13zM496 732h13v1h-13zM521 732h13v1h-13zM546 732h13v1h-13zM571 732h14v1h-14zM596 732h14v1h-14zM621 732h14v1h-14zM646 732h14v1h-14zM671 732h14v1h-14zM697 732h13v1h-13zM722 732h13v1h-13zM747 732h13v1h-13zM772 732h13v1h-13zM797 732h13v1h-13zM822 732h14v1h-14zM847 732h14v1h-14zM872 732h14v1h-14zM897 732h14v1h-14zM922 732h14v1h-14zM948 732h13v1h-13zM973 732h13v1h-13zM998 732h13v1h-13zM1023 732h13v1h-13zM1048 732h14v1h-14zM1073 732h14v1h-14zM1098 732h14v1h-14zM1123 732h14v1h-14zM1148 732h14v1h-14zM1174 732h13v1h-13zM1199 732h13v1h-13zM1224 732h13v1h-13zM1249 732h13v1h-13zM1274 732h13v1h-13zM1299 732h14v1h-14zM1324 732h14v1h-14zM1349 732h14v1h-14zM1374 732h14v1h-14zM1399 732h14v1h-14zM1425 732h13v1h-13zM1450 732h13v1h-13zM1475 732h13v1h-13zM1500 732h13v1h-13zM1525 732h13v1h-13zM1550 732h14v1h-14zM1575 732h14v1h-14zM1600 732h14v1h-14zM1625 732h14v1h-14zM1651 732h13v1h-13zM1676 732h13v1h-13zM1701 732h13v1h-13zM1726 732h13v1h-13zM1751 732h13v1h-13zM1776 732h14v1h-14zM1801 732h14v1h-14zM1826 732h14v1h-14zM1851 732h14v1h-14zM1876 732h14v1h-14zM1902 732h13v1h-13zM1927 732h13v1h-13zM1952 732h13v1h-13zM1977 732h13v1h-13zM2002 732h13v1h-13z" fill="#a8a8a8"/>
<path d="M320 800h14v2h-14zM345 800h14v2h-14zM370 800h14v2h-14zM395 800h14v2h-14zM420 800h14v2h-14zM446 800h13v2h-13zM471 800h13v2h-13zM496 800h13v2h-13zM521 800h13v2h-13zM546 800h13v2h-13zM571 800h14v2h-14zM596 800h14v2h-14zM621 800h14v2h-14zM646 800h14v2h-14zM671 800h14v2h-14zM697 800h13v2h-13zM722 800h13v2h-13zM747 800h13v2h-13zM772 800h13v2h-13zM797 800h13v2h-13zM822 800h14v2h-14zM847 800h14v2h-14zM872 800h14v2h-14zM897 800h14v2h-14zM922 800h14v2h-14zM948 800h13v2h-13zM973 800h13v2h-13zM998 800h13v2h-13zM1023 800h13v2h-13zM1048 800h14v2h-14zM1073 800h14v2h-14zM1098 800h14v2h-14zM1123 800h14v2h-14zM1148 800h14v2h-14zM1174 800h13v2h-13zM1199 800h13v2h-13zM1224 800h13v2h-13zM1249 800h13v2h-13zM1274 800h13v2h-13zM1299 800h14v2h-14zM1324 800h14v2h-14zM1349 800h14v2h-14zM1374 800h14v2h-14zM1399 800h14v2h-14zM1425 800h13v2h-13zM1450 800h13v2h-13zM1475 800h13v2h-13zM1500 800h13v2h-13zM1525 800h13v2h-13zM1550 800h14v2h-14zM1575 800h14v2h-14zM1600 800h14v2h-14zM1625 800h14v2h-14zM1651 800h13v2h-13zM1676 800h13v2h-13zM1701 800h13v2h-13zM1726 800h13v2h-13zM1751 800h13v2h-13zM1776 800h14v2h-14zM1801 800h14v2h-14zM1826 800h14v2h-14zM1851 800h14v2h-14zM1876 800h14v2h-14zM1902 800h13v2h-13zM1927 800h13v2h-13zM1952 800h13v2h-13zM1977 800h13v2h-13zM2002 800h13v2h-13z" fill="#d3d3d3"/>
<path d="M320 870h14v1h-14zM345 870h14v1h-14zM370 870h14v1h-14zM395 870h14v1h-14zM420 870h14v1h-14zM446 870h13v1h-13zM471 870h13v1h-13zM496 870h13v1h-13zM521 870h13v1h-13zM546 870h13v1h-13zM571 870h14v1h-14zM596 870h14v1h-14zM621 870h14v1h-14zM646 870h14v1h-14zM671 870h14v1h-14zM697 870h13v1h-13zM722 870h13v1h-13zM747 870h13v1h-13zM772 870h13v1h-13zM797 870h13v1h-13zM822 870h14v1h-14zM847 870h14v1h-14zM872 870h14v1h-14zM897 870h14v1h-14zM922 870h14v1h-14zM948 870h13v1h-13zM973 870h13v1h-13zM998 870h13v1h-13zM1023 870h13v1h-13zM1048 870h14v1h-14zM1073 870h14v1h-14zM1098 870h14v1h-14zM1123 870h14v1h-14zM1148 870h14v1h-14zM1174 870h13v1h-13zM1199 870h13v1h-13zM1224 870h13v1h-13zM1249 870h13v1h-13zM1274 870h13v1h-13zM1299 870h14v1h-14zM1324 870h14v1h-14zM1349 870h14v1h-14zM1374 870h14v1h-14zM1399 870h14v1h-14zM1425 870h13v1h-13zM1450 870h13v1h-13zM1475 870h13v1h-13zM1500 870h13v1h-13zM1525 870h13v1h-13zM1550 870h14v1h-14zM1575 870h14v1h-14zM1600 870h14v1h-14zM1625 870h14v1h-14zM1651 870h13v1h-13zM1676 870h13v1h-13zM1701 870h13v1h-13zM1726 870h13v1h-13zM1751 870h13v1h-13zM1776 870h14v1h-14zM1801 870h14v1h-14zM1826 870h14v1h-14zM1851 870h14v1h-14zM1876 870h14v1h-14zM1902 870h13v1h-13zM1927 870h13v1h-13zM1952 870h13v1h-13zM1977 870h13v1h-13zM2002 870h13v1h-13z" fill="#a8a8a8"/>
<path d="M320 939h14v1h-14zM345 939h14v1h-14zM370 939h14v1h-14zM395 939h14v1h-14zM420 939h14v1h-14zM446 939h13v1h-13zM471 939h13v1h-13zM496 939h13v1h-13zM521 939h13v1h-13zM546 939h13v1h-13zM571 939h14v1h-14zM596 939h14v1h-14zM621 939h14v1h-14zM646 939h14v1h-14zM671 939h14v1h-14zM697 939h13v1h-13zM722 939h13v1h-13zM747 939h13v1h-13zM772 939h13v1h-13zM797 939h13v1h-13zM822 939h14v1h-14zM847 939h14v1h-14zM872 939h14v1h-14zM897 939h14v1h-14zM922 939h14v1h-14zM948 939h13v1h-13zM973 939h13v1h-13zM998 939h13v1h-13zM1023 939h13v1h-13zM1048 939h14v1h-14zM1073 939h14v1h-14zM1098 939h14v1h-14zM1123 939h14v1h-14zM1148 939h14v1h-14zM1174 939h13v1h-13zM1199 939h13v1h-13zM1224 939h13v1h-13zM1249 939h13v1h-13zM1274 939h13v1h-13zM1299 939h14v1h-14zM1324 939h14v1h-14zM1349 939h14v1h-14zM1374 939h14v1h-14zM1399 939h14v1h-14zM1425 939h13v1h-13zM1450 939h13v1h-13zM1475 939h13v1h-13zM1500 939h13v1h-13zM1525 939h13v1h-13zM1550 939h14v1h-14zM1575 939h14v1h-14zM1600 939h14v1h-14zM1625 939h14v1h-14zM1651 939h13v1h-13zM1676 939h13v1h-13zM1701 939h13v1h-13zM1726 939h13v1h-13zM1751 939h13v1h-13zM1776 939h14v1h-14zM1801 939h14v1h-14zM1826 939h14v1h-14zM1851 939h14v1h-14zM1876 939h14v1h-14zM1902 939h13v1h-13zM1927 939h13v1h-13zM1952 939h13v1h-13zM1977 939h13v1h-13zM2002 939h13v1h-13z" fill="#d3d3d3"/>
<path d="M320 1008h14v1h-14zM345 1008h14v1h-14zM370 1008h14v1h-14zM395 1008h14v1h-14zM420 1008h14v1h-14zM446 1008h13v1h-13zM471 1008h13v1h-13zM496 1008h13v1h-13zM521 1008h13v1h-13zM546 1008h13v1h-13zM571 1008h14v1h-14zM596 1008h14v1h-14zM621 1008h14v1h-14zM646 1008h14v1h-14zM671 1008h14v1h-14zM697 1008h13v1h-13zM722 1008h13v1h-13zM747 1008h13v1h-13zM772 1008h13v1h-13zM797 1008h13v1h-13zM822 1008h14v1h-14zM847 1008h14v1h-14zM872 1008h14v1h-14zM897 1008h14v1h-14zM922 1008h14v1h-14zM948 1008h13v1h-13zM973 1008h13v1h-13zM998 1008h13v1h-13zM1023 1008h13v1h-13zM1048 1008h14v1h-14zM1073 1008h14v1h-14zM1098 1008h14v1h-14zM1123 1008h14v1h-14zM1148 1008h14v1h-14zM1174 1008h13v1h-13zM1199 1008h13v1h-13zM1224 1008h13v1h-13zM1249 1008h13v1h-13zM1274 1008h13v1h-13zM1299 1008h14v1h-14zM1324 1008h14v1h-14zM1349 1008h14v1h-14zM1374 1008h14v1h-14zM1399 1008h14v1h-14zM1425 1008h13v1h-13zM1450 1008h13v1h-13zM1475 1008h13v1h-13zM1500 1008h13v1h-13zM1525 1008h13v1h-13zM1550 1008h14v1h-14zM1575 1008h14v1h-14zM1600 1008h14v1h-14zM1625 1008h14v1h-14zM1651 1008h13v1h-13zM1676 1008h13v1h-13zM1701 1008h13v1h-13zM1726 1008h13v1h-13zM1751 1008h13v1h-13zM1776 1008h14v1h-14zM1801 1008h14v1h-14zM1826 1008h14v1h-14zM1851 1008h14v1h-14zM1876 1008h14v1h-14zM1902 1008h13v1h-13zM1927 1008h13v1h-13zM1952 1008h13v1h-13zM1977 1008h13v1h-13zM2002 1008h13v1h-13z" fill="#a8a8a8"/>
<path d="M320 1077h14v1h-14zM345 1077h14v1h-14zM370 1077h14v1h-14zM395 1077h14v1h-14zM420 1077h14v1h-14zM446 1077h13v1h-13zM471 1077h13v1h-13zM496 1077h13v1h-13zM521 1077h13v1h-13zM546 1077h13v1h-13zM571 1077h14v1h-14zM596 1077h14v1h-14zM621 1077h14v1h-14zM646 1077h14v1h-14zM671 1077h14v1h-14zM697 1077h13v1h-13zM722 1077h13v1h-13zM747 1077h13v1h-13zM772 1077h13v1h-13zM797 1077h13v1h-13zM822 1077h14v1h-14zM847 1077h14v1h-14zM872 1077h14v1h-14zM897 1077h14v1h-14zM922 1077h14v1h-14zM948 1077h13v1h-13zM973 1077h13v1h-13zM998 1077h13v1h-13zM1023 1077h13v1h-13zM1048 1077h14v1h-14zM1073 1077h14v1h-14zM1098 1077h14v1h-14zM1123 1077h14v1h-14zM1148 1077h14v1h-14zM1174 1077h13v1h-13zM1199 1077h13v1h-13zM1224 1077h13v1h-13zM1249 1077h13v1h-13zM1274 1077h13v1h-13zM1299 1077h14v1h-14zM1324 1077h14v1h-14zM1349 1077h14v1h-14zM1374 1077h14v1h-14zM1399 1077h14v1h-14zM1425 1077h13v1h-13zM1450 1077h13v1h-13zM1475 1077h13v1h-13zM1500 1077h13v1h-13zM1525 1077h13v1h-13zM1550 1077h14v1h-14zM1575 1077h14v1h-14zM1600 1077h14v1h-14zM1625 1077h14v1h-14zM1651 1077h13v1h-13zM1676 1077h13v1h-13zM1701 1077h13v1h-13zM1726 1077h13v1h-13zM1751 1077h13v1h-13zM1776 1077h14v1h-14zM1801 1077h14v1h-14zM1826 1077h14v1h-14zM1851 1077h14v1h-14zM1876 1077h14v1h-14zM1902 1077h13v1h-13zM1927 1077h13v1h-13zM1952 1077h13v1h-13zM1977 1077h13v1h-13zM2002 1077h13v1h-13z" fill="#d3d3d3"/>
<rect x="316" y="41" width="1700" height="2" fill="#747474"/>
<path d="M320 41h14v2h-14zM345 41h14v2h-14zM370 41h14v2h-14zM395 41h14v2h-14zM420 41h14v2h-14zM446 41h13v2h-13zM471 41h13v2h-13zM496 41h13v2h-13zM521 41h13v2h-13zM546 41h13v2h-13zM571 41h14v2h-14zM596 41h14v2h-14zM621 41h14v2h-14zM646 41h14v2h-14zM671 41h14v2h-14zM697 41h13v2h-13zM722 41h13v2h-13zM747 41h13v2h-13zM772 41h13v2h-13zM797 41h13v2h-13zM822 41h14v2h-14zM847 41h14v2h-14zM872 41h14v2h-14zM897 41h14v2h-14zM922 41h14v2h-14zM948 41h13v2h-13zM973 41h13v2h-13zM998 41h13v2h-13zM1023 41h13v2h-13zM1048 41h14v2h-14zM1073 41h14v2h-14zM1098 41h14v2h-14zM1123 41h14v2h-14zM1148 41h14v2h-14zM1174 41h13v2h-13zM1199 41h13v2h-13zM1224 41h13v2h-13zM1249 41h13v2h-13zM1274 41h13v2h-13zM1299 41h14v2h-14zM1324 41h14v2h-14zM1349 41h14v2h-14zM1374 41h14v2h-14zM1399 41h14v2h-14zM1425 41h13v2h-13zM1450 41h13v2h-13zM1475 41h13v2h-13zM1500 41h13v2h-13zM1525 41h13v2h-13zM1550 41h14v2h-14zM1575 41h14v2h-14zM1600 41h14v2h-14zM1625 41h14v2h-14zM1651 41h13v2h-13zM1676 41h13v2h-13zM1701 41h13v2h-13zM1726 41h13v2h-13zM1751 41h13v2h-13zM1776 41h14v2h-14zM1801 41h14v2h-14zM1826 41h14v2h-14zM1851 41h14v2h-14zM1876 41h14v2h-14zM1902 41h13v2h-13zM1927 41h13v2h-13zM1952 41h13v2h-13zM1977 41h13v2h-13zM2002 41h13v2h-13z" fill="#a8a8a8"/>
<rect x="2014" y="41" width="2" height="1070" fill="#747474"/>
<path d="M2014 41h2v14h-2zM2014 66h2v14h-2zM2014 91h2v14h-2zM2014 116h2v14h-2zM2014 141h2v14h-2zM2014 166h2v14h-2zM2014 191h2v14h-2zM2014 216h2v14h-2zM2014 241h2v14h-2zM2014 266h2v14h-2zM2014 292h2v14h-2zM2014 317h2v14h-2zM2014 342h2v14h-2zM2014 367h2v14h-2zM2014 392h2v14h-2zM2014 417h2v14h-2zM2014 442h2v14h-2zM2014 467h2v14h-2zM2014 492h2v14h-2zM2014 517h2v14h-2zM2014 542h2v14h-2zM2014 567h2v14h-2zM2014 592h2v14h-2zM2014 617h2v14h-2zM2014 642h2v14h-2zM2014 667h2v14h-2zM2014 692h2v14h-2zM2014 717h2v14h-2zM2014 742h2v14h-2zM2014 767h2v14h-2zM2014 792h2v14h-2zM2014 818h2v14h-2zM2014 843h2v14h-2zM2014 868h2v14h-2zM2014 893h2v14h-2zM2014 918h2v14h-2zM2014 943h2v14h-2zM2014 968h2v14h-2zM2014 993h2v14h-2zM2014 1018h2v14h-2zM2014 1043h2v14h-2zM2014 1068h2v14h-2zM2014 1093h2v14h-2z" fill="#a8a8a8"/>
<rect x="2014" y="110" width="2" height="2" fill="#e2e2e2"/>
<rect x="2014" y="248" width="2" height="2" fill="#e2e2e2"/>
<rect x="2014" y="386" width="2" height="2" fill="#e2e2e2"/>
<rect x="2014" y="524" width="2" height="2" fill="#e2e2e2"/>
<rect x="2014" y="663" width="2" height="1" fill="#e2e2e2"/>
<rect x="2014" y="800" width="2" height="2" fill="#e2e2e2"/>
<rect x="2014" y="939" width="2" height="1" fill="#e2e2e2"/>
<rect x="2014" y="1077" width="2" height="1" fill="#e2e2e2"/>
</g>
<g shape-rendering="crispEdges" fill="none" stroke-linejoin="round">
<polyline points="351.5,939.5 781.0,808.5 1629.5,383.5" stroke="#ff0000" stroke-width="1.85"/>
<polyline points="376.5,739.5 935.5,534.5 1860.5,371.5" stroke="#002cff" stroke-width="1.75"/>
</g>
<g shape-rendering="crispEdges">
<rect x="1212" y="681" width="735" height="208" fill="#ffffff"/>
<rect x="1214" y="683" width="731" height="204" fill="#a9a9a9"/>
<rect x="1216" y="685" width="727" height="200" fill="#ffffff"/>
<rect x="1259" y="740" width="190" height="2" fill="#002cff"/>
<rect x="1336" y="723" width="37" height="36" fill="#002cff"/>
<rect x="1259" y="828" width="190" height="2" fill="#ff0000"/>
<rect x="1336" y="811" width="37" height="36" fill="#ff0000"/>
</g>
<g shape-rendering="crispEdges">
<rect x="364" y="727" width="25" height="25" fill="#002cff"/>
<rect x="923" y="522" width="25" height="25" fill="#002cff"/>
<rect x="1848" y="359" width="25" height="25" fill="#002cff"/>
<rect x="339" y="927" width="25" height="25" fill="#ff0000"/>
<rect x="768" y="796" width="26" height="25" fill="#ff0000"/>
<rect x="1617" y="371" width="25" height="25" fill="#ff0000"/>
<rect x="375" y="709" width="2" height="60" fill="#000"/>
<rect x="352" y="709" width="49" height="2" fill="#000"/>
<rect x="352" y="768" width="49" height="1" fill="#000"/>
<rect x="935" y="490" width="1" height="90" fill="#000"/>
<rect x="911" y="490" width="49" height="1" fill="#000"/>
<rect x="911" y="579" width="49" height="1" fill="#000"/>
<rect x="1860" y="314" width="2" height="115" fill="#000"/>
<rect x="1837" y="314" width="48" height="2" fill="#000"/>
<rect x="1837" y="427" width="48" height="2" fill="#000"/>
<rect x="350" y="877" width="2" height="126" fill="#000"/>
<rect x="327" y="877" width="49" height="2" fill="#000"/>
<rect x="327" y="1001" width="49" height="2" fill="#000"/>
<rect x="780" y="754" width="2" height="109" fill="#000"/>
<rect x="757" y="754" width="48" height="1" fill="#000"/>
<rect x="757" y="862" width="48" height="1" fill="#000"/>
<rect x="1629" y="340" width="1" height="86" fill="#000"/>
<rect x="1605" y="340" width="48" height="2" fill="#000"/>
<rect x="1605" y="425" width="48" height="1" fill="#000"/>
</g>
<g shape-rendering="crispEdges" fill="#000">
<rect x="279" y="41" width="2" height="1107" fill="#000"/>
<rect x="279" y="1146" width="1737" height="2" fill="#000"/>
<rect x="280" y="41" width="36" height="2" fill="#000"/>
<rect x="280" y="110" width="27" height="2" fill="#000"/>
<rect x="280" y="179" width="36" height="2" fill="#000"/>
<rect x="280" y="248" width="27" height="2" fill="#000"/>
<rect x="280" y="317" width="36" height="2" fill="#000"/>
<rect x="280" y="386" width="27" height="2" fill="#000"/>
<rect x="280" y="455" width="36" height="2" fill="#000"/>
<rect x="280" y="524" width="27" height="2" fill="#000"/>
<rect x="280" y="594" width="36" height="1" fill="#000"/>
<rect x="280" y="663" width="27" height="1" fill="#000"/>
<rect x="280" y="732" width="36" height="1" fill="#000"/>
<rect x="280" y="800" width="27" height="2" fill="#000"/>
<rect x="280" y="870" width="36" height="1" fill="#000"/>
<rect x="280" y="939" width="27" height="1" fill="#000"/>
<rect x="280" y="1008" width="36" height="1" fill="#000"/>
<rect x="280" y="1077" width="27" height="1" fill="#000"/>
<rect x="280" y="1146" width="36" height="2" fill="#000"/>
<rect x="279" y="1111" width="2" height="36" fill="#000"/>
<rect x="375" y="1120" width="2" height="27" fill="#000"/>
<rect x="472" y="1111" width="1" height="36" fill="#000"/>
<rect x="568" y="1120" width="2" height="27" fill="#000"/>
<rect x="665" y="1111" width="1" height="36" fill="#000"/>
<rect x="761" y="1120" width="2" height="27" fill="#000"/>
<rect x="858" y="1111" width="1" height="36" fill="#000"/>
<rect x="954" y="1120" width="2" height="27" fill="#000"/>
<rect x="1050" y="1111" width="2" height="36" fill="#000"/>
<rect x="1147" y="1120" width="1" height="27" fill="#000"/>
<rect x="1243" y="1111" width="2" height="36" fill="#000"/>
<rect x="1340" y="1120" width="1" height="27" fill="#000"/>
<rect x="1436" y="1111" width="2" height="36" fill="#000"/>
<rect x="1532" y="1120" width="2" height="27" fill="#000"/>
<rect x="1629" y="1111" width="1" height="36" fill="#000"/>
<rect x="1725" y="1120" width="2" height="27" fill="#000"/>
<rect x="1822" y="1111" width="1" height="36" fill="#000"/>
<rect x="1918" y="1120" width="1" height="27" fill="#000"/>
<rect x="2014" y="1111" width="2" height="36" fill="#000"/>
</g>
<g font-family="'Liberation Sans', sans-serif" filter="url(#crisp)">
<clipPath id="d1"><path clip-rule="evenodd" d="M-20 -80H200V30H-20ZM3.40 -5.81H17.38V3H3.40ZM23.84 -5.81H37.10V3H23.84Z"/></clipPath><text transform="translate(145.50,67.30) rotate(0.03) scale(0.95,1)" x="0.00 37.47 77.47" y="0" font-size="69.7" fill="#525252" clip-path="url(#d1)">120</text>
<clipPath id="d2"><path clip-rule="evenodd" d="M-20 -80H200V30H-20ZM3.40 -5.81H17.38V3H3.40ZM23.84 -5.81H37.10V3H23.84ZM43.40 -5.81H57.38V3H43.40ZM63.84 -5.81H77.10V3H63.84Z"/></clipPath><text transform="translate(145.50,205.30) rotate(0.03) scale(0.95,1)" x="0.00 40.00 77.47" y="0" font-size="69.7" fill="#525252" clip-path="url(#d2)">115</text>
<clipPath id="d3"><path clip-rule="evenodd" d="M-20 -80H200V30H-20ZM3.40 -5.81H17.38V3H3.40ZM23.84 -5.81H37.10V3H23.84ZM43.40 -5.81H57.38V3H43.40ZM63.84 -5.81H77.10V3H63.84Z"/></clipPath><text transform="translate(145.50,343.30) rotate(0.03) scale(0.95,1)" x="0.00 40.00 77.47" y="0" font-size="69.7" fill="#525252" clip-path="url(#d3)">110</text>
<clipPath id="d4"><path clip-rule="evenodd" d="M-20 -80H200V30H-20ZM3.40 -5.81H17.38V3H3.40ZM23.84 -5.81H37.10V3H23.84Z"/></clipPath><text transform="translate(145.50,481.30) rotate(0.03) scale(0.95,1)" x="0.00 37.47 77.47" y="0" font-size="69.7" fill="#525252" clip-path="url(#d4)">105</text>
<clipPath id="d5"><path clip-rule="evenodd" d="M-20 -80H200V30H-20ZM3.40 -5.81H17.38V3H3.40ZM23.84 -5.81H37.10V3H23.84Z"/></clipPath><text transform="translate(145.50,619.30) rotate(0.03) scale(0.95,1)" x="0.00 37.47 77.47" y="0" font-size="69.7" fill="#525252" clip-path="url(#d5)">100</text>
<text transform="translate(181.10,757.30) rotate(0.03) scale(0.95,1)" x="0.00 40.00" y="0" font-size="69.7" fill="#525252">95</text>
<text transform="translate(181.10,895.30) rotate(0.03) scale(0.95,1)" x="0.00 40.00" y="0" font-size="69.7" fill="#525252">90</text>
<text transform="translate(181.10,1033.30) rotate(0.03) scale(0.95,1)" x="0.00 40.00" y="0" font-size="69.7" fill="#525252">85</text>
<text transform="translate(181.10,1173.30) rotate(0.03) scale(0.95,1)" x="0.00 40.00" y="0" font-size="69.7" fill="#525252">80</text>
<text transform="translate(262.10,1233.30) rotate(0.03) scale(0.95,1)" x="0.00" y="0" font-size="69.7" fill="#525252">0</text>
<clipPath id="d6"><path clip-rule="evenodd" d="M-20 -80H200V30H-20ZM3.40 -5.81H17.38V3H3.40ZM23.84 -5.81H37.10V3H23.84Z"/></clipPath><text transform="translate(437.50,1233.30) rotate(0.03) scale(0.95,1)" x="0.00 37.47" y="0" font-size="69.7" fill="#525252" clip-path="url(#d6)">10</text>
<text transform="translate(628.10,1233.30) rotate(0.03) scale(0.95,1)" x="0.00 40.00" y="0" font-size="69.7" fill="#525252">20</text>
<text transform="translate(821.10,1233.30) rotate(0.03) scale(0.95,1)" x="0.00 40.00" y="0" font-size="69.7" fill="#525252">30</text>
<text transform="translate(1014.10,1233.30) rotate(0.03) scale(0.95,1)" x="0.00 40.00" y="0" font-size="69.7" fill="#525252">40</text>
<text transform="translate(1206.10,1233.30) rotate(0.03) scale(0.95,1)" x="0.00 40.00" y="0" font-size="69.7" fill="#525252">50</text>
<text transform="translate(1399.10,1233.30) rotate(0.03) scale(0.95,1)" x="0.00 40.00" y="0" font-size="69.7" fill="#525252">60</text>
<text transform="translate(1592.10,1233.30) rotate(0.03) scale(0.95,1)" x="0.00 40.00" y="0" font-size="69.7" fill="#525252">70</text>
<text transform="translate(1785.10,1233.30) rotate(0.03) scale(0.95,1)" x="0.00 40.00" y="0" font-size="69.7" fill="#525252">80</text>
<text transform="translate(1978.10,1233.30) rotate(0.03) scale(0.95,1)" x="0.00 40.00" y="0" font-size="69.7" fill="#525252">90</text>
<text transform="translate(1471.60,760) rotate(0.03) scale(0.95,1)" x="0.00 33.94 53.63 92.36 113.06 152.47 171.74 212.13 246.06 264.28 284.56 318.48 339.55 377.39" y="0" font-size="61.0" fill="#000">a-C:H:Cu (0 V)</text>
<text transform="translate(1471.60,848) rotate(0.03) scale(0.95,1)" x="0.00 33.94 53.63 92.36 113.06 152.47 171.74 212.13 246.06 264.28 284.42 304.57 337.09 371.01 392.13 429.92" y="0" font-size="61.0" fill="#000">a-C:H:Cu (-50 V)</text>
<text transform="translate(1033.15,1337) rotate(0.03) scale(0.965,1)" x="0.00" y="0" font-size="69.6" font-weight="bold" fill="#000">X</text>
<text transform="translate(1077.60,1359) rotate(0.03) scale(1.0,1)" x="0.00 29.78" y="0" font-size="39.2" fill="#000">Cu</text>
<text transform="translate(1150.52,1337.2) rotate(0.03) scale(0.935,1)" x="0.00 24.40 86.41" y="0" font-size="68.0" font-weight="bold" fill="#000">[%]</text>
<text transform="translate(72,0) rotate(-90) scale(1.0,1)" x="-1103.77 -1065.11 -1021.34 -978.42 -955.33 -916.12 -878.37 -856.23 -835.93 -797.34 -753.15 -709.81 -691.25 -654.27 -633.99 -611.85 -589.85 -540.66 -522.54 -478.50 -434.90 -396.43 -373.51 -354.65 -317.66 -298.65 -260.41 -216.71 -197.61 -179.13 -159.98 -136.38 -111.91" y="0" font-size="66.5" font-weight="bold" fill="#000">contact angle - Ringer's sol. [°]</text>
</g>
</svg>
</body>
</html>
